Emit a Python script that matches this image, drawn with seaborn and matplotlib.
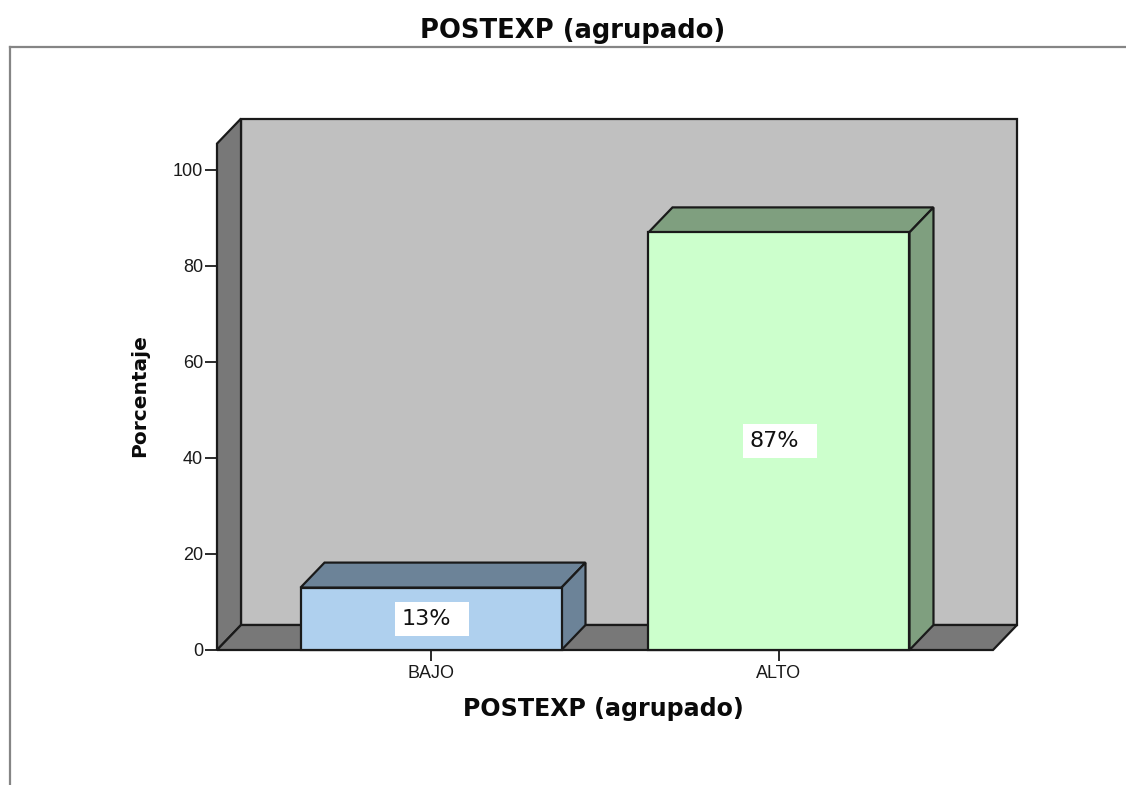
import matplotlib
matplotlib.use("Agg")
import matplotlib.pyplot as plt
import matplotlib.transforms as mtransforms
from matplotlib.patches import Polygon, Rectangle
from matplotlib.lines import Line2D
import seaborn as sns
import pandas as pd

# ---- data ----
categories = ["BAJO", "ALTO"]
values = [13, 87]
value_labels = ["13%", "87%"]
yticks = [0, 20, 40, 60, 80, 100]
title = "POSTEXP (agrupado)"
xlabel = "POSTEXP (agrupado)"
ylabel = "Porcentaje"

# ---- style ----
front_colors = ["#afd0ee", "#ccffcc"]
shade_colors = ["#6c8398", "#7f9f7f"]
wall_color = "#787878"
back_color = "#c0c0c0"
edge = "#1a1a1a"
lw = 1.6

W, H = 1126, 785
fig = plt.figure(figsize=(W / 100, H / 100), dpi=100)
fig.patch.set_facecolor("white")


def fx(px):
    return px / W


def fy(py):
    return 1 - py / H


x0, x1 = -0.615, 1.615
ytop = 105.5
ax = fig.add_axes([fx(217), fy(650), (993 - 217) / W, (ytop * 4.8) / H])

df = pd.DataFrame({"cat": categories, "val": values})
sns.barplot(data=df, x="cat", y="val", hue="cat", palette=front_colors,
            legend=False, width=0.75, saturation=1, edgecolor=edge,
            linewidth=lw, ax=ax, zorder=3)
bars = list(ax.patches)

ax.set_xlim(x0, x1)
ax.set_ylim(0, ytop)
bb = ax.bbox
dx = 24 * (x1 - x0) / bb.width
dy = 25 * ytop / bb.height

# walls and floor
back = Polygon([(x0 + dx, dy), (x1 + dx, dy), (x1 + dx, ytop + dy), (x0 + dx, ytop + dy)],
               closed=True, fc=back_color, ec=edge, lw=lw, zorder=0.5, clip_on=False)
left = Polygon([(x0, 0), (x0 + dx, dy), (x0 + dx, ytop + dy), (x0, ytop)],
               closed=True, fc=wall_color, ec=edge, lw=lw, zorder=0.6, clip_on=False)
floor = Polygon([(x0, 0), (x1, 0), (x1 + dx, dy), (x0 + dx, dy)],
                closed=True, fc=wall_color, ec=edge, lw=lw, zorder=0.7, clip_on=False)
for p in (back, left, floor):
    ax.add_patch(p)

# 3D faces of bars
for p, sc in zip(bars, shade_colors):
    p.set_clip_on(False)
    bx, bw, bh = p.get_x(), p.get_width(), p.get_height()
    top = Polygon([(bx, bh), (bx + bw, bh), (bx + bw + dx, bh + dy), (bx + dx, bh + dy)],
                  closed=True, fc=sc, ec=edge, lw=lw, zorder=2.5, clip_on=False)
    side = Polygon([(bx + bw, 0), (bx + bw + dx, dy), (bx + bw + dx, bh + dy), (bx + bw, bh)],
                   closed=True, fc=sc, ec=edge, lw=lw, zorder=2.5, clip_on=False)
    ax.add_patch(top)
    ax.add_patch(side)

# value labels
for p, lab in zip(bars, value_labels):
    cx = p.get_x() + p.get_width() / 2
    mid = p.get_height() / 2
    trans = fig.dpi_scale_trans + mtransforms.ScaledTranslation(cx, mid, ax.transData)
    box = Rectangle((-0.36, -0.17), 0.74, 0.34, transform=trans, fc="white",
                    ec="none", zorder=5, clip_on=False)
    ax.add_artist(box)
    ax.annotate(lab, (cx, mid), xytext=(-5, 0), textcoords="offset pixels",
                ha="center", va="center", fontsize=16, family="DejaVu Sans",
                color="#111111", zorder=6)

# axes cosmetics
for s in ax.spines.values():
    s.set_visible(False)
ax.patch.set_visible(False)
ax.set_xlabel("")
ax.set_ylabel("")
ax.set_yticks(yticks)
ax.set_yticklabels([str(t) for t in yticks], family="Liberation Sans", fontsize=13)
ax.set_xticks(range(len(categories)))
ax.set_xticklabels(categories, family="Liberation Sans", fontsize=13)
ax.tick_params(axis="y", length=8.6, width=1.3, pad=1.5, color=edge, labelcolor="#1a1a1a")
ax.tick_params(axis="x", length=8, width=1.3, pad=3, color=edge, labelcolor="#1a1a1a")

# titles
fig.text(fx(572.5), fy(38), title, ha="center", va="baseline", fontsize=18.6,
         fontweight="bold", family="DejaVu Sans", color="#0a0a0a")
fig.text(fx(603), fy(716), xlabel, ha="center", va="baseline", fontsize=17.1,
         fontweight="bold", family="DejaVu Sans", color="#0a0a0a")
fig.text(fx(145), fy(396), ylabel, ha="center", va="baseline", rotation=90,
         rotation_mode="anchor", fontsize=14.5, fontweight="bold",
         family="DejaVu Sans", color="#0a0a0a")

# outer frame
fig.add_artist(Line2D([fx(10), 1], [fy(47), fy(47)], color="#858585", lw=1.6))
fig.add_artist(Line2D([fx(10), fx(10)], [fy(47), 0], color="#858585", lw=1.6))

fig.savefig("out.png", dpi=100, facecolor="white")
